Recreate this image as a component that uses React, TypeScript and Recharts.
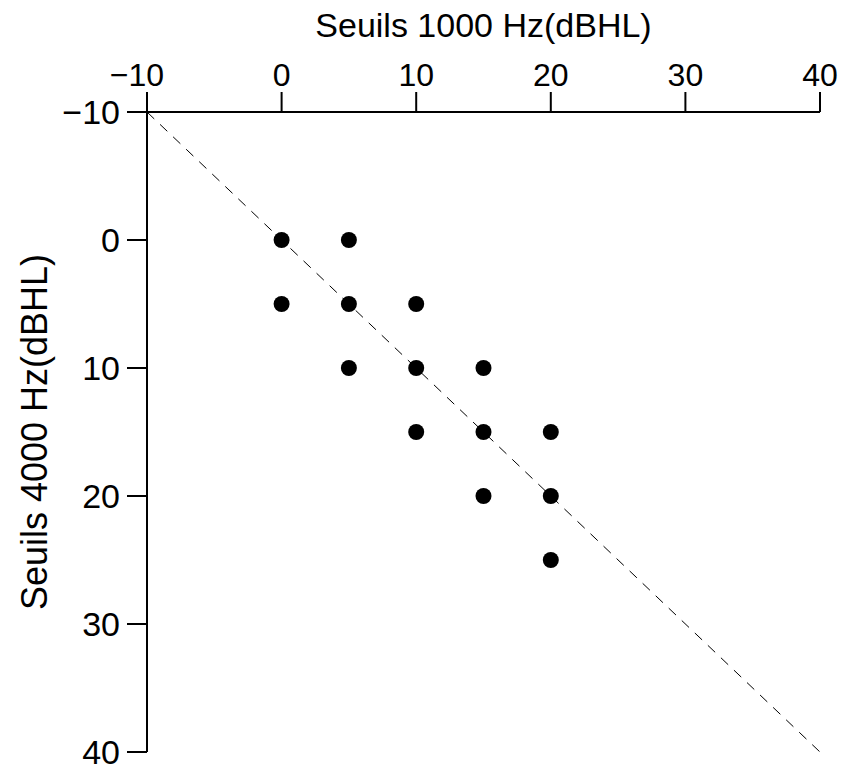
import React from 'react';
import {
  Label,
  ReferenceLine,
  Scatter,
  ScatterChart,
  XAxis,
  YAxis,
} from 'recharts';

const seuils1000 = [0, 5, 0, 5, 10, 5, 10, 15, 10, 15, 20, 15, 20, 20];
const seuils4000 = [0, 0, 5, 5, 5, 10, 10, 10, 15, 15, 15, 20, 20, 25];
const axisTicks = [-10, 0, 10, 20, 30, 40];
const axisDomain = [-10, 40];

const FONT = '"Liberation Sans", Arial, Helvetica, sans-serif';

const formatTick = (v: number) => (v < 0 ? `\u2212${Math.abs(v)}` : String(v));

const Dot = (props: any) => {
  const { cx, cy } = props;
  if (cx == null || cy == null) return null;
  return <circle cx={cx} cy={cy} r={8} fill="#000" />;
};

// tick labels drawn by hand so the font size sticks
const TopTick = (props: any) => {
  const { x, y, payload } = props;
  // the minus sign hangs to the left in the original
  const shift = payload.value < 0 ? -10 : 0;
  return (
    <text x={x + shift} y={y} textAnchor="middle" fontSize={32} fontFamily={FONT} fill="#000">
      {formatTick(payload.value)}
    </text>
  );
};

const LeftTick = (props: any) => {
  const { x, y, payload } = props;
  return (
    <text x={x} y={y} dy="0.36em" textAnchor="end" fontSize={34} fontFamily={FONT} fill="#000">
      {formatTick(payload.value)}
    </text>
  );
};

export default function App() {
  const points = seuils1000.map((x, i) => ({ x, y: seuils4000[i] }));

  return (
    <div style={{ position: 'absolute', left: 0, top: 0, background: '#fff' }}>
      <ScatterChart
        width={846}
        height={768}
        margin={{ top: 0, right: 26, bottom: 16, left: 0 }}
        style={{ fontFamily: FONT }}
      >
        <XAxis
          type="number"
          dataKey="x"
          orientation="top"
          domain={axisDomain}
          ticks={axisTicks}
          height={112}
          stroke="#000"
          strokeWidth={2}
          tickSize={20}
          tickMargin={6}
          tick={<TopTick />}
          allowDataOverflow
        >
          <Label
            value="Seuils 1000 Hz(dBHL)"
            position="insideTop"
            offset={13}
            fill="#000"
            fontSize={34}
            fontFamily={FONT}
          />
        </XAxis>
        <YAxis
          type="number"
          dataKey="y"
          reversed
          domain={axisDomain}
          ticks={axisTicks}
          width={147}
          stroke="#000"
          strokeWidth={2}
          tickSize={20}
          tickMargin={7}
          tick={<LeftTick />}
          allowDataOverflow
        >
          <Label
            value="Seuils 4000 Hz(dBHL)"
            position="insideLeft"
            angle={-90}
            offset={34}
            textAnchor="middle"
            fill="#000"
            fontSize={36}
            fontFamily={FONT}
          />
        </YAxis>
        <ReferenceLine
          segment={[
            { x: -10, y: -10 },
            { x: 40, y: 40 },
          ]}
          stroke="#000"
          strokeWidth={1}
          strokeDasharray="10 8"
        />
        <Scatter data={points} fill="#000" shape={Dot} isAnimationActive={false} />
      </ScatterChart>
    </div>
  );
}
